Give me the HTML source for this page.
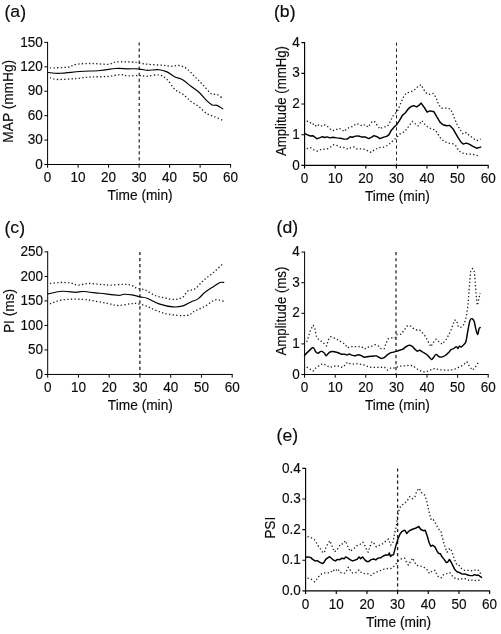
<!DOCTYPE html>
<html lang="en"><head><meta charset="utf-8"><title>Figure</title>
<style>html,body{margin:0;padding:0;background:#fff}body{width:501px;height:634px;overflow:hidden;font-family:"Liberation Sans", sans-serif}svg{display:block;filter:grayscale(1)}svg text{font-family:"Liberation Sans", sans-serif}</style>
</head><body>
<svg width="501" height="634" viewBox="0 0 501 634">
<rect width="501" height="634" fill="#fff"/>
<g><text transform="translate(4.50 12.60) scale(1.06 1.12)" y="4.9" font-size="16.6" fill="#0a0a0a" stroke="#0a0a0a" stroke-width="0.15">(</text>
<text transform="translate(10.36 17.30) scale(1.06 1)" font-size="16.6" text-anchor="start" fill="#0a0a0a" stroke="#0a0a0a" stroke-width="0.15">a</text>
<text transform="translate(20.14 12.60) scale(1.06 1.12)" y="4.9" font-size="16.6" fill="#0a0a0a" stroke="#0a0a0a" stroke-width="0.15">)</text>
<path d="M47.60 41.90V165.00M47.10 164.50H231.10" stroke="#000" stroke-width="1.0" fill="none"/>
<text transform="translate(42.90 168.65) scale(0.94 1)" font-size="14.4" text-anchor="end" fill="#0a0a0a" stroke="#0a0a0a" stroke-width="0.15">0</text>
<text transform="translate(42.90 144.23) scale(0.94 1)" font-size="14.4" text-anchor="end" fill="#0a0a0a" stroke="#0a0a0a" stroke-width="0.15">30</text>
<text transform="translate(42.90 119.81) scale(0.94 1)" font-size="14.4" text-anchor="end" fill="#0a0a0a" stroke="#0a0a0a" stroke-width="0.15">60</text>
<text transform="translate(42.90 95.39) scale(0.94 1)" font-size="14.4" text-anchor="end" fill="#0a0a0a" stroke="#0a0a0a" stroke-width="0.15">90</text>
<text transform="translate(42.90 70.97) scale(0.94 1)" font-size="14.4" text-anchor="end" fill="#0a0a0a" stroke="#0a0a0a" stroke-width="0.15">120</text>
<text transform="translate(42.90 46.55) scale(0.94 1)" font-size="14.4" text-anchor="end" fill="#0a0a0a" stroke="#0a0a0a" stroke-width="0.15">150</text>
<text transform="translate(47.60 181.70) scale(0.94 1)" font-size="14.4" text-anchor="middle" fill="#0a0a0a" stroke="#0a0a0a" stroke-width="0.15">0</text>
<text transform="translate(78.10 181.70) scale(0.94 1)" font-size="14.4" text-anchor="middle" fill="#0a0a0a" stroke="#0a0a0a" stroke-width="0.15">10</text>
<text transform="translate(108.60 181.70) scale(0.94 1)" font-size="14.4" text-anchor="middle" fill="#0a0a0a" stroke="#0a0a0a" stroke-width="0.15">20</text>
<text transform="translate(139.10 181.70) scale(0.94 1)" font-size="14.4" text-anchor="middle" fill="#0a0a0a" stroke="#0a0a0a" stroke-width="0.15">30</text>
<text transform="translate(169.60 181.70) scale(0.94 1)" font-size="14.4" text-anchor="middle" fill="#0a0a0a" stroke="#0a0a0a" stroke-width="0.15">40</text>
<text transform="translate(200.10 181.70) scale(0.94 1)" font-size="14.4" text-anchor="middle" fill="#0a0a0a" stroke="#0a0a0a" stroke-width="0.15">50</text>
<text transform="translate(230.60 181.70) scale(0.94 1)" font-size="14.4" text-anchor="middle" fill="#0a0a0a" stroke="#0a0a0a" stroke-width="0.15">60</text>
<path d="M44.40 164.50H47.60M44.40 140.08H47.60M44.40 115.66H47.60M44.40 91.24H47.60M44.40 66.82H47.60M44.40 42.40H47.60M47.60 164.50V167.70M78.10 164.50V167.70M108.60 164.50V167.70M139.10 164.50V167.70M169.60 164.50V167.70M200.10 164.50V167.70M230.60 164.50V167.70" stroke="#000" stroke-width="1.0" fill="none"/>
<text transform="translate(140.10 199.60) scale(0.94 1)" font-size="14.6" text-anchor="middle" fill="#0a0a0a" stroke="#0a0a0a" stroke-width="0.15">Time (min)</text>
<text transform="translate(12.70 101.25) rotate(-90) scale(0.94 1)" font-size="14.6" text-anchor="middle" fill="#0a0a0a" stroke="#0a0a0a" stroke-width="0.15">MAP (mmHg)</text>
<path d="M139.20 42.40V164.50" stroke="#111" stroke-width="1.1" stroke-dasharray="3.2 2.85" fill="none"/>
<path d="M50.0 67.9 C53.0 67.8 63.7 67.7 68.0 67.1 C72.3 66.5 72.0 64.9 76.0 64.3 C80.0 63.7 86.7 63.5 92.0 63.5 C97.3 63.5 104.0 64.5 108.0 64.3 C112.0 64.0 112.0 62.4 116.0 62.0 C120.0 61.6 128.0 61.8 132.0 62.0 C136.0 62.2 137.5 62.6 140.0 63.0 C142.5 63.4 143.2 63.8 147.0 64.2 C150.8 64.6 159.0 65.0 163.0 65.3 C167.0 65.6 168.3 66.3 171.0 66.3 C173.7 66.3 176.3 65.1 179.0 65.5 C181.7 65.9 184.3 67.0 187.0 68.9 C189.7 70.8 192.3 74.2 195.0 76.9 C197.7 79.6 200.3 82.1 203.0 84.9 C205.7 87.7 208.7 91.9 211.0 93.5 C213.3 95.1 215.0 93.7 217.0 94.5 C219.0 95.3 222.0 97.9 223.0 98.6" stroke="#1a1a1a" stroke-width="1.3" stroke-dasharray="1.3 2.3" fill="none"/>
<path d="M50.0 77.9 C51.3 78.2 53.7 79.4 58.0 79.5 C62.3 79.6 70.3 78.9 76.0 78.5 C81.7 78.1 86.7 77.2 92.0 76.9 C97.3 76.6 103.3 76.9 108.0 76.5 C112.7 76.1 116.7 74.8 120.0 74.7 C123.3 74.6 124.8 75.8 128.0 75.9 C131.2 76.0 135.8 75.4 139.0 75.5 C142.2 75.6 143.7 76.4 147.0 76.3 C150.3 76.2 155.7 74.4 159.0 74.9 C162.3 75.4 164.3 77.1 167.0 79.5 C169.7 81.9 172.3 87.0 175.0 89.5 C177.7 92.0 180.3 92.3 183.0 94.3 C185.7 96.3 188.3 99.4 191.0 101.5 C193.7 103.6 196.3 104.8 199.0 106.8 C201.7 108.8 204.3 112.1 207.0 113.8 C209.7 115.5 212.4 115.7 215.0 116.8 C217.6 117.9 221.2 119.7 222.5 120.3" stroke="#1a1a1a" stroke-width="1.3" stroke-dasharray="1.3 2.3" fill="none"/>
<path d="M48.0 72.5 C50.0 72.6 54.7 73.5 60.0 73.3 C65.3 73.1 73.3 72.0 80.0 71.5 C86.7 71.0 94.0 71.0 100.0 70.5 C106.0 70.0 111.3 68.8 116.0 68.5 C120.7 68.2 124.8 68.9 128.0 68.9 C131.2 68.9 133.0 68.7 135.0 68.7 C137.0 68.7 138.0 68.8 140.0 69.1 C142.0 69.4 143.8 70.2 147.0 70.3 C150.2 70.4 155.7 69.4 159.0 69.7 C162.3 70.0 164.3 70.7 167.0 71.9 C169.7 73.1 172.3 75.6 175.0 76.9 C177.7 78.2 180.3 78.3 183.0 79.9 C185.7 81.5 188.3 84.2 191.0 86.3 C193.7 88.4 196.3 89.9 199.0 92.3 C201.7 94.7 204.8 98.8 207.0 100.9 C209.2 103.0 210.3 104.2 212.0 104.9 C213.7 105.7 215.2 104.8 217.0 105.4 C218.8 106.1 221.8 108.2 222.8 108.8" stroke="#000" stroke-width="1.15" fill="none" stroke-linejoin="round" stroke-linecap="round"/></g>
<g><text transform="translate(274.00 12.60) scale(1.06 1.12)" y="4.9" font-size="16.6" fill="#0a0a0a" stroke="#0a0a0a" stroke-width="0.15">(</text>
<text transform="translate(279.86 17.30) scale(1.06 1)" font-size="16.6" text-anchor="start" fill="#0a0a0a" stroke="#0a0a0a" stroke-width="0.15">b</text>
<text transform="translate(289.64 12.60) scale(1.06 1.12)" y="4.9" font-size="16.6" fill="#0a0a0a" stroke="#0a0a0a" stroke-width="0.15">)</text>
<path d="M304.60 42.10V165.90M304.10 165.40H488.70" stroke="#000" stroke-width="1.15" fill="none"/>
<text transform="translate(299.90 169.55) scale(0.94 1)" font-size="14.4" text-anchor="end" fill="#0a0a0a" stroke="#0a0a0a" stroke-width="0.15">0</text>
<text transform="translate(299.90 138.85) scale(0.94 1)" font-size="14.4" text-anchor="end" fill="#0a0a0a" stroke="#0a0a0a" stroke-width="0.15">1</text>
<text transform="translate(299.90 108.15) scale(0.94 1)" font-size="14.4" text-anchor="end" fill="#0a0a0a" stroke="#0a0a0a" stroke-width="0.15">2</text>
<text transform="translate(299.90 77.45) scale(0.94 1)" font-size="14.4" text-anchor="end" fill="#0a0a0a" stroke="#0a0a0a" stroke-width="0.15">3</text>
<text transform="translate(299.90 46.75) scale(0.94 1)" font-size="14.4" text-anchor="end" fill="#0a0a0a" stroke="#0a0a0a" stroke-width="0.15">4</text>
<text transform="translate(304.60 182.60) scale(0.94 1)" font-size="14.4" text-anchor="middle" fill="#0a0a0a" stroke="#0a0a0a" stroke-width="0.15">0</text>
<text transform="translate(335.20 182.60) scale(0.94 1)" font-size="14.4" text-anchor="middle" fill="#0a0a0a" stroke="#0a0a0a" stroke-width="0.15">10</text>
<text transform="translate(365.80 182.60) scale(0.94 1)" font-size="14.4" text-anchor="middle" fill="#0a0a0a" stroke="#0a0a0a" stroke-width="0.15">20</text>
<text transform="translate(396.40 182.60) scale(0.94 1)" font-size="14.4" text-anchor="middle" fill="#0a0a0a" stroke="#0a0a0a" stroke-width="0.15">30</text>
<text transform="translate(427.00 182.60) scale(0.94 1)" font-size="14.4" text-anchor="middle" fill="#0a0a0a" stroke="#0a0a0a" stroke-width="0.15">40</text>
<text transform="translate(457.60 182.60) scale(0.94 1)" font-size="14.4" text-anchor="middle" fill="#0a0a0a" stroke="#0a0a0a" stroke-width="0.15">50</text>
<text transform="translate(488.20 182.60) scale(0.94 1)" font-size="14.4" text-anchor="middle" fill="#0a0a0a" stroke="#0a0a0a" stroke-width="0.15">60</text>
<path d="M301.40 165.40H304.60M301.40 134.70H304.60M301.40 104.00H304.60M301.40 73.30H304.60M301.40 42.60H304.60M304.60 165.40V168.60M335.20 165.40V168.60M365.80 165.40V168.60M396.40 165.40V168.60M427.00 165.40V168.60M457.60 165.40V168.60M488.20 165.40V168.60" stroke="#000" stroke-width="1.15" fill="none"/>
<text transform="translate(397.40 200.50) scale(0.94 1)" font-size="14.6" text-anchor="middle" fill="#0a0a0a" stroke="#0a0a0a" stroke-width="0.15">Time (min)</text>
<text transform="translate(285.70 101.10) rotate(-90) scale(0.905 1)" font-size="14.6" text-anchor="middle" fill="#0a0a0a" stroke="#0a0a0a" stroke-width="0.15">Amplitude (mmHg)</text>
<path d="M396.50 42.60V165.40" stroke="#222" stroke-width="1.0" stroke-dasharray="3.2 2.85" fill="none"/>
<polyline points="306.7,121.2 309.7,121.9 312.0,124.5 314.2,123.7 316.5,126.7 318.7,124.9 321.7,126.0 324.0,124.5 327.0,126.0 330.0,128.7 332.2,130.7 335.9,129.7 338.9,128.2 341.9,129.7 344.2,131.6 346.4,129.0 349.4,127.5 353.1,126.3 356.1,123.7 359.1,124.2 362.1,126.0 365.4,124.6 368.0,127.1 371.7,122.2 374.3,121.1 377.0,125.2 380.0,128.9 383.0,127.1 387.5,126.2 390.4,121.4 392.7,116.2 394.9,113.9 397.9,110.2 400.9,102.7 403.6,96.7 406.2,93.0 409.9,92.2 413.7,90.7 417.4,87.0 421.1,84.7 423.4,89.2 426.0,92.8 428.7,94.5 433.3,93.4 436.3,98.0 438.5,104.5 441.5,108.2 446.0,108.2 450.4,109.0 452.7,113.4 454.9,119.4 457.2,124.7 460.2,129.9 463.2,134.1 466.2,132.6 469.9,135.9 473.7,138.6 476.6,140.7 480.7,139.2" stroke="#1a1a1a" stroke-width="1.3" stroke-dasharray="1.3 2.3" fill="none" stroke-linejoin="round"/>
<polyline points="306.7,148.7 310.5,147.7 313.5,149.6 317.2,151.1 321.0,149.5 324.7,149.2 327.7,148.7 330.7,146.9 333.7,144.7 336.7,145.4 340.4,147.2 344.9,147.7 347.9,149.2 350.9,147.7 353.9,146.9 356.9,148.9 361.4,148.9 365.1,149.5 367.6,150.8 371.0,152.4 374.7,149.6 379.2,147.6 383.7,147.2 388.2,145.1 392.7,140.9 396.4,137.9 400.2,133.7 404.7,131.6 408.4,126.7 412.2,121.4 415.1,123.7 418.1,125.9 421.9,120.7 424.9,124.4 427.9,127.2 431.6,128.8 435.4,130.2 437.5,133.3 440.0,137.4 443.7,141.1 448.2,143.1 452.7,143.7 455.7,145.6 457.9,149.4 460.9,152.7 465.4,153.9 469.9,154.2 474.4,154.6 478.9,156.1" stroke="#1a1a1a" stroke-width="1.3" stroke-dasharray="1.3 2.3" fill="none" stroke-linejoin="round"/>
<polyline points="304.5,133.4 307.5,134.9 310.5,136.0 312.7,135.7 315.0,137.2 316.8,138.7 319.5,137.9 322.5,136.7 324.7,137.5 327.0,136.9 330.0,137.9 333.0,137.2 336.7,137.9 340.4,138.2 344.2,139.1 347.2,139.1 350.1,136.7 352.4,137.2 355.4,136.1 358.4,136.0 361.4,136.9 365.1,136.9 368.7,138.6 371.7,137.1 374.0,135.6 377.0,136.7 380.0,138.6 383.7,137.1 386.7,136.4 389.0,134.6 391.2,130.4 394.2,127.1 396.7,124.7 399.4,120.7 402.4,115.4 405.4,112.7 408.4,108.7 411.4,106.4 413.7,105.7 416.6,106.9 418.9,105.4 421.1,103.1 424.1,107.2 427.1,112.0 430.2,110.9 434.0,111.8 437.0,117.1 440.0,122.1 443.0,124.7 446.7,125.7 449.7,125.4 452.7,128.4 454.9,132.2 457.9,137.4 460.9,141.9 463.2,144.1 466.2,143.1 469.2,144.1 472.9,146.4 476.6,148.2 478.9,147.6 480.7,147.1" stroke="#000" stroke-width="1.45" fill="none" stroke-linejoin="round" stroke-linecap="round"/></g>
<g><text transform="translate(4.50 228.10) scale(1.06 1.12)" y="4.9" font-size="16.6" fill="#0a0a0a" stroke="#0a0a0a" stroke-width="0.15">(</text>
<text transform="translate(10.36 232.80) scale(1.06 1)" font-size="16.6" text-anchor="start" fill="#0a0a0a" stroke="#0a0a0a" stroke-width="0.15">c</text>
<text transform="translate(19.16 228.10) scale(1.06 1.12)" y="4.9" font-size="16.6" fill="#0a0a0a" stroke="#0a0a0a" stroke-width="0.15">)</text>
<path d="M47.70 251.40V374.95M47.20 374.45H232.70" stroke="#000" stroke-width="1.0" fill="none"/>
<text transform="translate(43.00 378.60) scale(0.94 1)" font-size="14.4" text-anchor="end" fill="#0a0a0a" stroke="#0a0a0a" stroke-width="0.15">0</text>
<text transform="translate(43.00 354.09) scale(0.94 1)" font-size="14.4" text-anchor="end" fill="#0a0a0a" stroke="#0a0a0a" stroke-width="0.15">50</text>
<text transform="translate(43.00 329.58) scale(0.94 1)" font-size="14.4" text-anchor="end" fill="#0a0a0a" stroke="#0a0a0a" stroke-width="0.15">100</text>
<text transform="translate(43.00 305.07) scale(0.94 1)" font-size="14.4" text-anchor="end" fill="#0a0a0a" stroke="#0a0a0a" stroke-width="0.15">150</text>
<text transform="translate(43.00 280.56) scale(0.94 1)" font-size="14.4" text-anchor="end" fill="#0a0a0a" stroke="#0a0a0a" stroke-width="0.15">200</text>
<text transform="translate(43.00 256.05) scale(0.94 1)" font-size="14.4" text-anchor="end" fill="#0a0a0a" stroke="#0a0a0a" stroke-width="0.15">250</text>
<text transform="translate(47.70 392.05) scale(0.94 1)" font-size="14.4" text-anchor="middle" fill="#0a0a0a" stroke="#0a0a0a" stroke-width="0.15">0</text>
<text transform="translate(78.45 392.05) scale(0.94 1)" font-size="14.4" text-anchor="middle" fill="#0a0a0a" stroke="#0a0a0a" stroke-width="0.15">10</text>
<text transform="translate(109.20 392.05) scale(0.94 1)" font-size="14.4" text-anchor="middle" fill="#0a0a0a" stroke="#0a0a0a" stroke-width="0.15">20</text>
<text transform="translate(139.95 392.05) scale(0.94 1)" font-size="14.4" text-anchor="middle" fill="#0a0a0a" stroke="#0a0a0a" stroke-width="0.15">30</text>
<text transform="translate(170.70 392.05) scale(0.94 1)" font-size="14.4" text-anchor="middle" fill="#0a0a0a" stroke="#0a0a0a" stroke-width="0.15">40</text>
<text transform="translate(201.45 392.05) scale(0.94 1)" font-size="14.4" text-anchor="middle" fill="#0a0a0a" stroke="#0a0a0a" stroke-width="0.15">50</text>
<text transform="translate(232.20 392.05) scale(0.94 1)" font-size="14.4" text-anchor="middle" fill="#0a0a0a" stroke="#0a0a0a" stroke-width="0.15">60</text>
<path d="M44.50 374.45H47.70M44.50 349.94H47.70M44.50 325.43H47.70M44.50 300.92H47.70M44.50 276.41H47.70M44.50 251.90H47.70M47.70 374.45V377.65M78.45 374.45V377.65M109.20 374.45V377.65M139.95 374.45V377.65M170.70 374.45V377.65M201.45 374.45V377.65M232.20 374.45V377.65" stroke="#000" stroke-width="1.0" fill="none"/>
<text transform="translate(140.35 409.55) scale(0.94 1)" font-size="14.6" text-anchor="middle" fill="#0a0a0a" stroke="#0a0a0a" stroke-width="0.15">Time (min)</text>
<text transform="translate(13.80 310.98) rotate(-90) scale(0.94 1)" font-size="14.6" text-anchor="middle" fill="#0a0a0a" stroke="#0a0a0a" stroke-width="0.15">PI (ms)</text>
<path d="M139.90 251.90V374.45" stroke="#111" stroke-width="1.2" stroke-dasharray="3.2 2.85" fill="none"/>
<path d="M50.0 283.5 C51.7 283.3 56.7 282.6 60.0 282.5 C63.3 282.4 67.0 282.5 70.0 282.9 C73.0 283.3 75.0 285.0 78.0 285.1 C81.0 285.2 84.3 283.6 88.0 283.5 C91.7 283.4 96.3 284.0 100.0 284.3 C103.7 284.6 106.0 285.1 110.0 285.1 C114.0 285.1 120.3 284.2 124.0 284.3 C127.7 284.4 129.8 284.8 132.0 285.5 C134.2 286.2 134.8 287.6 137.0 288.3 C139.2 289.0 142.0 288.7 145.0 289.9 C148.0 291.1 151.7 294.2 155.0 295.5 C158.3 296.8 161.7 297.2 165.0 297.9 C168.3 298.6 172.0 299.7 175.0 299.5 C178.0 299.3 180.8 298.3 183.0 296.9 C185.2 295.5 186.0 292.2 188.0 290.9 C190.0 289.6 192.5 290.6 195.0 288.9 C197.5 287.2 200.0 283.6 203.0 280.9 C206.0 278.2 209.5 275.9 213.0 272.9 C216.5 269.9 222.0 264.6 223.8 263.0" stroke="#1a1a1a" stroke-width="1.3" stroke-dasharray="1.3 2.3" fill="none"/>
<path d="M50.0 303.9 C52.0 303.2 56.7 300.7 62.0 299.9 C67.3 299.1 76.3 299.1 82.0 299.3 C87.7 299.5 91.7 300.6 96.0 301.3 C100.3 302.0 104.3 302.8 108.0 303.5 C111.7 304.2 114.3 305.4 118.0 305.5 C121.7 305.6 126.8 304.2 130.0 303.9 C133.2 303.6 134.2 303.1 137.0 303.5 C139.8 303.9 143.7 305.1 147.0 306.3 C150.3 307.5 153.3 309.6 157.0 310.9 C160.7 312.2 164.0 313.5 169.0 314.3 C174.0 315.1 182.7 316.1 187.0 315.5 C191.3 314.9 192.0 312.4 195.0 310.9 C198.0 309.4 201.7 308.1 205.0 306.3 C208.3 304.5 211.9 300.7 215.0 299.9 C218.1 299.1 222.3 301.1 223.8 301.3" stroke="#1a1a1a" stroke-width="1.3" stroke-dasharray="1.3 2.3" fill="none"/>
<path d="M48.0 293.9 C50.3 293.5 57.3 291.6 62.0 291.3 C66.7 291.0 72.5 292.3 76.0 292.3 C79.5 292.3 79.0 291.3 83.0 291.5 C87.0 291.7 94.2 292.7 100.0 293.3 C105.8 293.9 114.0 295.1 118.0 295.3 C122.0 295.5 121.7 294.4 124.0 294.3 C126.3 294.2 129.3 294.5 132.0 294.9 C134.7 295.3 137.5 296.3 140.0 296.9 C142.5 297.5 143.8 297.1 147.0 298.3 C150.2 299.5 154.7 302.5 159.0 303.9 C163.3 305.3 169.0 306.6 173.0 306.9 C177.0 307.2 180.0 306.7 183.0 305.9 C186.0 305.1 188.5 303.1 191.0 301.9 C193.5 300.7 195.7 300.5 198.0 298.9 C200.3 297.3 202.5 294.3 205.0 292.3 C207.5 290.3 210.5 288.5 213.0 286.9 C215.5 285.3 218.2 283.2 220.0 282.5 C221.8 281.8 223.2 282.5 223.8 282.5" stroke="#000" stroke-width="1.15" fill="none" stroke-linejoin="round" stroke-linecap="round"/></g>
<g><text transform="translate(276.60 227.90) scale(1.06 1.12)" y="4.9" font-size="16.6" fill="#0a0a0a" stroke="#0a0a0a" stroke-width="0.15">(</text>
<text transform="translate(282.46 232.60) scale(1.06 1)" font-size="16.6" text-anchor="start" fill="#0a0a0a" stroke="#0a0a0a" stroke-width="0.15">d</text>
<text transform="translate(292.24 227.90) scale(1.06 1.12)" y="4.9" font-size="16.6" fill="#0a0a0a" stroke="#0a0a0a" stroke-width="0.15">)</text>
<path d="M304.60 251.60V375.00M304.10 374.50H488.70" stroke="#000" stroke-width="1.0" fill="none"/>
<text transform="translate(299.90 378.65) scale(0.94 1)" font-size="14.4" text-anchor="end" fill="#0a0a0a" stroke="#0a0a0a" stroke-width="0.15">0</text>
<text transform="translate(299.90 348.05) scale(0.94 1)" font-size="14.4" text-anchor="end" fill="#0a0a0a" stroke="#0a0a0a" stroke-width="0.15">1</text>
<text transform="translate(299.90 317.45) scale(0.94 1)" font-size="14.4" text-anchor="end" fill="#0a0a0a" stroke="#0a0a0a" stroke-width="0.15">2</text>
<text transform="translate(299.90 286.85) scale(0.94 1)" font-size="14.4" text-anchor="end" fill="#0a0a0a" stroke="#0a0a0a" stroke-width="0.15">3</text>
<text transform="translate(299.90 256.25) scale(0.94 1)" font-size="14.4" text-anchor="end" fill="#0a0a0a" stroke="#0a0a0a" stroke-width="0.15">4</text>
<text transform="translate(304.60 391.70) scale(0.94 1)" font-size="14.4" text-anchor="middle" fill="#0a0a0a" stroke="#0a0a0a" stroke-width="0.15">0</text>
<text transform="translate(335.20 391.70) scale(0.94 1)" font-size="14.4" text-anchor="middle" fill="#0a0a0a" stroke="#0a0a0a" stroke-width="0.15">10</text>
<text transform="translate(365.80 391.70) scale(0.94 1)" font-size="14.4" text-anchor="middle" fill="#0a0a0a" stroke="#0a0a0a" stroke-width="0.15">20</text>
<text transform="translate(396.40 391.70) scale(0.94 1)" font-size="14.4" text-anchor="middle" fill="#0a0a0a" stroke="#0a0a0a" stroke-width="0.15">30</text>
<text transform="translate(427.00 391.70) scale(0.94 1)" font-size="14.4" text-anchor="middle" fill="#0a0a0a" stroke="#0a0a0a" stroke-width="0.15">40</text>
<text transform="translate(457.60 391.70) scale(0.94 1)" font-size="14.4" text-anchor="middle" fill="#0a0a0a" stroke="#0a0a0a" stroke-width="0.15">50</text>
<text transform="translate(488.20 391.70) scale(0.94 1)" font-size="14.4" text-anchor="middle" fill="#0a0a0a" stroke="#0a0a0a" stroke-width="0.15">60</text>
<path d="M301.40 374.50H304.60M301.40 343.90H304.60M301.40 313.30H304.60M301.40 282.70H304.60M301.40 252.10H304.60M304.60 374.50V377.70M335.20 374.50V377.70M365.80 374.50V377.70M396.40 374.50V377.70M427.00 374.50V377.70M457.60 374.50V377.70M488.20 374.50V377.70" stroke="#000" stroke-width="1.0" fill="none"/>
<text transform="translate(397.40 409.60) scale(0.94 1)" font-size="14.6" text-anchor="middle" fill="#0a0a0a" stroke="#0a0a0a" stroke-width="0.15">Time (min)</text>
<text transform="translate(286.00 311.10) rotate(-90) scale(0.907 1)" font-size="14.6" text-anchor="middle" fill="#0a0a0a" stroke="#0a0a0a" stroke-width="0.15">Amplitude (ms)</text>
<path d="M396.00 252.10V374.50" stroke="#1a1a1a" stroke-width="1.2" stroke-dasharray="3.2 2.85" fill="none"/>
<polyline points="306.7,341.9 308.2,337.5 310.5,330.0 313.2,325.2 315.0,329.2 316.2,336.0 318.7,339.7 322.5,341.9 326.6,346.1 328.4,339.7 330.7,336.7 334.4,338.2 338.9,340.4 342.7,342.7 345.7,344.9 347.2,347.9 350.9,346.7 355.4,346.7 359.1,346.7 361.4,346.4 364.4,349.1 368.0,347.2 371.7,346.1 375.5,344.6 378.5,346.1 381.5,349.1 384.2,348.7 386.0,343.4 388.2,338.7 391.2,337.9 394.9,338.2 397.2,334.5 400.9,334.2 403.9,330.7 406.9,326.2 409.9,325.5 412.9,328.2 416.6,330.0 419.6,330.0 422.6,333.0 425.6,336.7 427.9,341.2 430.9,346.7 432.8,343.2 436.1,339.1 438.5,341.3 442.3,344.2 446.1,339.4 448.9,334.7 451.8,328.1 454.6,320.1 456.5,320.5 458.4,327.1 461.3,327.1 464.1,324.3 466.4,316.7 467.9,305.3 469.4,286.4 470.7,271.3 472.6,268.4 474.5,272.2 475.5,286.4 476.4,297.8 477.3,305.3 478.9,298.7 480.2,293.0" stroke="#1a1a1a" stroke-width="1.3" stroke-dasharray="1.3 2.3" fill="none" stroke-linejoin="round"/>
<polyline points="306.7,367.1 309.7,368.9 313.2,371.1 315.7,368.1 318.7,365.9 322.5,363.7 326.2,365.1 329.6,367.4 332.9,366.6 336.7,365.6 339.7,366.6 342.7,367.4 344.9,365.1 347.6,362.2 350.1,363.7 353.9,364.1 357.6,363.7 361.4,364.4 365.0,365.1 368.7,367.1 374.0,367.4 380.0,367.4 384.5,367.1 387.5,370.1 391.2,367.7 394.9,368.1 398.7,366.3 403.9,365.9 409.2,365.4 412.9,365.6 415.9,368.1 418.9,370.1 422.6,371.6 425.6,372.2 428.6,370.7 432.4,369.2 435.4,368.3 438.3,369.6 443.3,370.1 448.9,370.1 453.7,369.7 457.5,367.8 462.2,365.6 466.9,361.8 469.8,366.9 472.6,370.1 475.5,366.9 479.2,361.2" stroke="#1a1a1a" stroke-width="1.3" stroke-dasharray="1.3 2.3" fill="none" stroke-linejoin="round"/>
<path d="M304.5 355.4 C305.2 354.6 307.6 352.2 309.0 350.9 C310.4 349.6 312.1 347.5 313.2 347.6 C314.3 347.7 314.9 350.8 315.7 351.7 C316.5 352.6 317.1 353.2 318.0 353.2 C318.9 353.1 320.0 351.5 321.0 351.4 C322.0 351.3 323.1 352.0 324.0 352.7 C324.9 353.4 325.5 355.6 326.2 355.7 C326.9 355.8 327.6 353.9 328.4 353.2 C329.1 352.5 329.7 351.9 330.7 351.7 C331.7 351.4 333.1 351.5 334.4 351.7 C335.6 351.9 337.1 352.3 338.2 352.7 C339.3 353.1 340.1 353.9 341.2 354.2 C342.3 354.4 343.9 354.0 344.9 354.2 C345.9 354.4 346.5 355.2 347.2 355.1 C347.9 355.1 348.4 353.9 349.1 353.9 C349.8 353.9 350.6 354.8 351.6 355.1 C352.7 355.4 354.3 355.8 355.4 355.7 C356.5 355.6 357.4 354.7 358.4 354.7 C359.4 354.7 360.4 355.3 361.4 355.7 C362.4 356.1 363.2 357.1 364.4 357.2 C365.6 357.3 367.3 356.7 368.7 356.5 C370.1 356.3 371.2 356.3 372.5 356.2 C373.8 356.1 375.1 355.7 376.2 355.9 C377.3 356.1 378.3 357.0 379.2 357.4 C380.1 357.8 380.6 358.4 381.5 358.4 C382.4 358.4 383.5 358.0 384.5 357.4 C385.5 356.8 386.5 355.4 387.5 354.7 C388.5 353.9 389.4 353.3 390.4 352.9 C391.4 352.5 392.4 352.4 393.4 352.1 C394.4 351.9 395.4 351.7 396.4 351.4 C397.4 351.1 398.4 350.5 399.4 350.2 C400.4 349.9 401.4 349.9 402.4 349.4 C403.4 348.9 404.5 347.8 405.4 347.2 C406.3 346.6 406.9 346.0 407.7 345.7 C408.4 345.4 409.1 345.1 409.9 345.2 C410.6 345.3 411.3 345.7 412.2 346.4 C413.1 347.1 414.2 348.6 415.1 349.4 C416.0 350.2 416.6 351.1 417.4 351.2 C418.1 351.3 418.7 350.1 419.6 350.2 C420.5 350.3 421.5 351.3 422.6 352.0 C423.7 352.7 425.3 353.3 426.4 354.2 C427.5 355.1 428.5 356.3 429.4 357.2 C430.3 358.1 430.9 359.6 431.6 359.5 C432.4 359.4 433.1 357.8 433.9 356.9 C434.6 356.0 435.3 354.5 436.1 354.4 C436.9 354.3 437.6 355.9 438.5 356.3 C439.4 356.8 440.3 357.2 441.4 357.1 C442.5 357.0 443.9 356.3 445.2 355.5 C446.4 354.7 448.0 353.2 448.9 352.3 C449.8 351.4 450.0 350.5 450.8 349.9 C451.6 349.3 452.8 349.1 453.7 348.5 C454.6 347.9 455.8 346.6 456.5 346.6 C457.2 346.6 457.5 348.6 458.0 348.5 C458.5 348.4 458.8 346.4 459.4 346.1 C459.9 345.9 460.5 347.3 461.3 347.0 C462.1 346.7 463.3 345.1 464.1 344.2 C464.9 343.2 465.4 343.7 466.0 341.3 C466.6 338.9 467.3 333.5 468.0 330.0 C468.7 326.5 469.3 322.4 470.0 320.5 C470.7 318.6 471.5 318.5 472.2 318.7 C472.9 318.9 473.6 319.8 474.2 321.5 C474.8 323.2 475.2 326.8 475.8 329.0 C476.4 331.2 477.1 334.6 477.6 334.6 C478.1 334.6 478.6 330.2 479.0 329.0 C479.4 327.8 480.0 327.8 480.2 327.5" stroke="#000" stroke-width="1.45" fill="none" stroke-linejoin="round" stroke-linecap="round"/></g>
<g><text transform="translate(276.60 435.90) scale(1.06 1.12)" y="4.9" font-size="16.6" fill="#0a0a0a" stroke="#0a0a0a" stroke-width="0.15">(</text>
<text transform="translate(282.46 440.60) scale(1.06 1)" font-size="16.6" text-anchor="start" fill="#0a0a0a" stroke="#0a0a0a" stroke-width="0.15">e</text>
<text transform="translate(292.24 435.90) scale(1.06 1.12)" y="4.9" font-size="16.6" fill="#0a0a0a" stroke="#0a0a0a" stroke-width="0.15">)</text>
<path d="M305.60 467.90V591.40M305.10 590.90H490.12" stroke="#000" stroke-width="1.15" fill="none"/>
<text transform="translate(300.90 595.05) scale(0.94 1)" font-size="14.4" text-anchor="end" fill="#0a0a0a" stroke="#0a0a0a" stroke-width="0.15">0.0</text>
<text transform="translate(300.90 564.42) scale(0.94 1)" font-size="14.4" text-anchor="end" fill="#0a0a0a" stroke="#0a0a0a" stroke-width="0.15">0.1</text>
<text transform="translate(300.90 533.80) scale(0.94 1)" font-size="14.4" text-anchor="end" fill="#0a0a0a" stroke="#0a0a0a" stroke-width="0.15">0.2</text>
<text transform="translate(300.90 503.17) scale(0.94 1)" font-size="14.4" text-anchor="end" fill="#0a0a0a" stroke="#0a0a0a" stroke-width="0.15">0.3</text>
<text transform="translate(300.90 472.55) scale(0.94 1)" font-size="14.4" text-anchor="end" fill="#0a0a0a" stroke="#0a0a0a" stroke-width="0.15">0.4</text>
<text transform="translate(305.60 609.10) scale(0.94 1)" font-size="14.4" text-anchor="middle" fill="#0a0a0a" stroke="#0a0a0a" stroke-width="0.15">0</text>
<text transform="translate(336.27 609.10) scale(0.94 1)" font-size="14.4" text-anchor="middle" fill="#0a0a0a" stroke="#0a0a0a" stroke-width="0.15">10</text>
<text transform="translate(366.94 609.10) scale(0.94 1)" font-size="14.4" text-anchor="middle" fill="#0a0a0a" stroke="#0a0a0a" stroke-width="0.15">20</text>
<text transform="translate(397.61 609.10) scale(0.94 1)" font-size="14.4" text-anchor="middle" fill="#0a0a0a" stroke="#0a0a0a" stroke-width="0.15">30</text>
<text transform="translate(428.28 609.10) scale(0.94 1)" font-size="14.4" text-anchor="middle" fill="#0a0a0a" stroke="#0a0a0a" stroke-width="0.15">40</text>
<text transform="translate(458.95 609.10) scale(0.94 1)" font-size="14.4" text-anchor="middle" fill="#0a0a0a" stroke="#0a0a0a" stroke-width="0.15">50</text>
<text transform="translate(489.62 609.10) scale(0.94 1)" font-size="14.4" text-anchor="middle" fill="#0a0a0a" stroke="#0a0a0a" stroke-width="0.15">60</text>
<path d="M302.40 590.90H305.60M302.40 560.27H305.60M302.40 529.65H305.60M302.40 499.02H305.60M302.40 468.40H305.60M305.60 590.90V594.10M336.27 590.90V594.10M366.94 590.90V594.10M397.61 590.90V594.10M428.28 590.90V594.10M458.95 590.90V594.10M489.62 590.90V594.10" stroke="#000" stroke-width="1.15" fill="none"/>
<text transform="translate(398.61 626.90) scale(0.94 1)" font-size="14.6" text-anchor="middle" fill="#0a0a0a" stroke="#0a0a0a" stroke-width="0.15">Time (min)</text>
<text transform="translate(274.80 527.75) rotate(-90) scale(0.94 1)" font-size="14.6" text-anchor="middle" fill="#0a0a0a" stroke="#0a0a0a" stroke-width="0.15">PSI</text>
<path d="M397.60 468.40V590.90" stroke="#222" stroke-width="1.3" stroke-dasharray="3.2 2.85" fill="none"/>
<polyline points="307.5,536.7 310.5,537.3 314.2,539.5 316.5,543.0 318.7,546.7 321.0,549.7 322.8,552.7 324.3,552.7 326.2,546.7 328.4,543.0 329.9,540.7 331.4,544.5 332.9,548.2 334.4,551.9 336.7,550.1 338.6,547.5 340.4,544.2 343.4,543.7 345.4,540.7 347.2,545.2 348.7,548.2 350.1,551.2 352.4,549.7 355.4,547.5 357.6,545.2 359.9,544.5 362.9,542.2 365.1,545.9 366.6,549.7 368.1,552.2 369.9,546.8 371.9,541.6 374.0,543.4 376.3,546.8 378.9,545.6 382.4,543.9 385.8,541.1 388.4,539.0 390.7,545.1 392.8,543.4 394.9,532.1 396.3,526.9 397.5,516.5 398.9,510.4 400.6,506.4 404.1,503.4 406.7,501.7 409.8,496.5 412.7,498.8 415.0,496.5 416.7,491.3 419.2,488.3 421.4,492.5 424.9,495.3 426.6,500.8 428.4,508.6 430.0,515.6 431.4,520.2 433.2,519.6 435.2,522.7 437.1,526.3 439.2,529.8 440.9,531.0 442.0,536.2 443.5,541.9 445.6,548.3 447.0,552.3 448.4,549.7 450.3,548.3 452.0,551.8 453.4,556.1 455.1,561.1 457.0,565.1 459.4,565.6 461.6,568.5 464.1,570.3 466.9,570.3 470.2,570.6 473.3,571.0 476.1,569.6 478.7,570.3 480.7,573.9" stroke="#1a1a1a" stroke-width="1.3" stroke-dasharray="1.3 2.3" fill="none" stroke-linejoin="round"/>
<polyline points="307.5,578.1 311.2,579.2 314.7,581.9 316.5,579.6 318.7,576.6 321.7,573.7 324.7,572.9 328.4,572.9 330.7,572.6 332.9,569.6 335.2,571.4 337.7,568.7 339.7,572.2 341.9,572.9 344.9,573.2 347.2,569.9 348.2,567.2 350.1,569.9 352.4,572.9 356.1,572.6 359.1,569.9 361.4,572.6 364.4,573.7 368.5,573.8 371.1,575.5 374.5,572.9 378.9,571.1 383.2,569.4 387.6,568.5 391.0,568.5 394.5,565.9 397.1,562.5 399.7,559.5 402.3,558.5 404.6,558.1 406.7,562.5 408.4,565.1 410.5,561.6 412.7,558.1 414.5,561.6 416.2,565.1 419.7,565.9 423.2,566.8 425.8,568.5 427.6,570.3 429.5,573.6 432.1,571.0 434.9,570.3 436.6,573.9 438.5,577.0 441.3,577.8 443.5,574.6 447.0,573.6 449.9,572.7 451.7,575.3 454.1,577.8 457.0,578.8 459.8,579.5 463.1,578.4 466.2,578.8 469.7,580.7 473.3,579.8 476.1,580.7 478.7,580.3 480.4,579.5" stroke="#1a1a1a" stroke-width="1.3" stroke-dasharray="1.3 2.3" fill="none" stroke-linejoin="round"/>
<polyline points="306.0,557.2 308.2,556.9 310.8,557.6 312.7,559.4 315.0,560.9 317.2,560.6 319.5,562.1 322.5,563.6 324.0,562.4 325.7,559.4 327.7,557.9 329.6,556.7 331.4,558.2 333.7,560.2 335.6,560.9 337.4,559.4 339.7,559.7 341.9,558.2 344.2,558.7 345.7,556.9 347.9,558.2 350.1,559.7 352.4,560.9 354.6,560.2 356.9,559.4 359.1,556.9 360.6,558.7 362.6,556.9 364.4,559.4 366.6,561.4 368.9,561.4 371.1,559.6 373.7,559.0 375.8,559.9 378.0,558.1 380.6,557.8 383.2,556.0 385.8,555.0 388.4,555.0 389.3,552.9 390.5,556.4 391.9,555.0 393.6,554.7 394.9,549.4 396.3,544.2 398.0,539.0 399.7,534.7 401.8,531.7 404.1,530.3 405.3,530.7 406.7,533.5 408.8,531.2 411.9,529.5 415.3,528.3 418.8,526.5 420.9,529.5 423.2,530.7 425.2,530.3 427.1,535.5 429.0,542.2 430.7,546.3 432.8,545.2 434.9,546.9 437.1,551.1 438.5,553.3 440.3,553.7 442.0,556.8 444.2,559.4 446.3,562.5 447.7,562.2 449.4,559.4 451.3,562.5 453.1,566.1 454.8,569.6 457.0,571.7 459.8,572.7 462.2,574.1 464.8,573.9 467.6,575.0 470.5,575.6 472.6,575.6 474.4,574.6 476.4,575.3 478.7,575.3 480.4,576.7 481.5,577.4" stroke="#000" stroke-width="1.45" fill="none" stroke-linejoin="round" stroke-linecap="round"/></g>
</svg>
</body></html>
